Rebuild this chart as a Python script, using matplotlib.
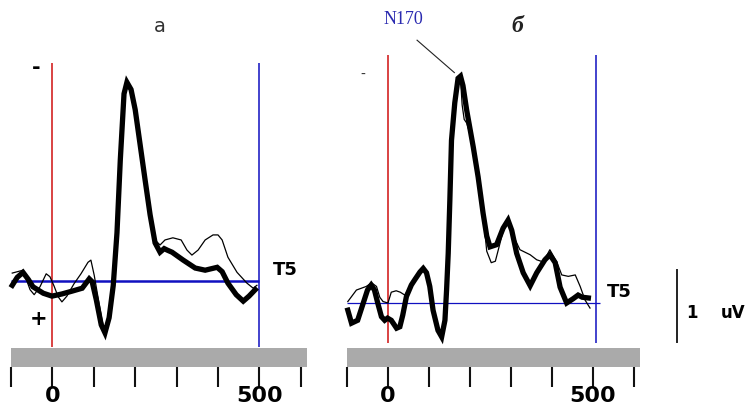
import matplotlib.pyplot as plt

W, H = 752, 403

# averaged ERP traces at T5: time in ms, amplitude in uV (negative plotted up)
t_a_thick = [-97, -85, -71, -58, -47, -22, -1, 23, 48, 72, 89, 96, 106, 118, 127, 137, 147,
             156, 164, 173, 180, 190, 200, 212, 224, 236, 248, 260, 270, 277, 289, 316, 345,
             369, 398, 410, 424, 444, 461, 475, 490]
v_a_thick = [0.06, -0.05, -0.12, -0.02, 0.08, 0.17, 0.21, 0.18, 0.14, 0.10, -0.03, 0.01, 0.26,
             0.61, 0.72, 0.51, 0.06, -0.67, -1.68, -2.60, -2.76, -2.66, -2.38, -1.89, -1.40,
             -0.92, -0.53, -0.40, -0.45, -0.43, -0.40, -0.29, -0.18, -0.15, -0.19, -0.13, 0.03,
             0.19, 0.28, 0.21, 0.12]

t_a_thin = [-97, -71, -54, -44, -30, -15, -6, 4, 14, 23, 35, 52, 69, 86, 93, 101, 110, 120,
            127, 137, 147, 156, 164, 173, 180, 190, 200, 212, 224, 236, 248, 260, 272, 291,
            311, 325, 337, 352, 369, 388, 400, 410, 424, 446, 470, 485, 494]
v_a_thin = [-0.11, -0.15, 0.12, 0.19, 0.08, -0.10, -0.06, 0.07, 0.22, 0.29, 0.21, 0.04, -0.10,
            -0.26, -0.29, -0.08, 0.22, 0.55, 0.70, 0.48, 0.04, -0.66, -1.66, -2.58, -2.74,
            -2.64, -2.36, -1.88, -1.38, -0.90, -0.57, -0.50, -0.57, -0.60, -0.57, -0.43, -0.36,
            -0.43, -0.57, -0.64, -0.64, -0.57, -0.33, -0.12, 0.03, 0.10, 0.06]

t_b_thick = [-98, -89, -74, -62, -50, -41, -33, -25, -16, -8, -1, 8, 21, 29, 36, 45, 57, 65,
             78, 86, 94, 102, 110, 122, 131, 139, 143, 147, 151, 155, 163, 171, 177, 183, 192,
             208, 220, 232, 241, 249, 265, 281, 293, 302, 314, 330, 347, 363, 383, 395, 408,
             420, 436, 452, 464, 474, 489]
v_b_thick = [0.10, 0.28, 0.24, 0.03, -0.18, -0.25, -0.18, 0.0, 0.19, 0.24, 0.21, 0.24, 0.35,
             0.33, 0.17, -0.09, -0.25, -0.32, -0.43, -0.48, -0.42, -0.23, 0.10, 0.38, 0.47,
             0.24, -0.18, -0.69, -1.43, -2.26, -2.78, -3.12, -3.15, -3.02, -2.68, -2.17,
             -1.75, -1.25, -0.93, -0.78, -0.81, -1.04, -1.15, -1.01, -0.69, -0.42, -0.24,
             -0.42, -0.60, -0.67, -0.56, -0.22, 0.0, -0.06, -0.11, -0.08, -0.07]

t_b_thin = [-98, -77, -53, -40, -28, -20, -12, 0, 8, 20, 30, 41, 49, 57, 65, 77, 86, 94, 102,
            110, 122, 130, 139, 143, 147, 151, 155, 163, 171, 177, 181, 186, 192, 200, 208,
            220, 232, 241, 252, 262, 272, 281, 293, 302, 322, 347, 363, 379, 395, 412, 424,
            440, 457, 469, 481, 493]
v_b_thin = [-0.02, -0.18, -0.23, -0.28, -0.23, -0.08, -0.02, 0.0, -0.15, -0.17, -0.15, -0.11,
            -0.18, -0.28, -0.35, -0.44, -0.46, -0.38, -0.20, 0.08, 0.33, 0.43, 0.20, -0.20,
            -0.70, -1.45, -2.25, -2.75, -3.08, -3.12, -2.75, -2.55, -2.50, -2.35, -2.15,
            -1.73, -1.23, -0.72, -0.56, -0.58, -0.80, -1.00, -1.12, -0.98, -0.74, -0.67,
            -0.60, -0.57, -0.74, -0.57, -0.39, -0.37, -0.39, -0.23, -0.04, 0.07]

tick_times = [-100, 0, 100, 200, 300, 400, 500, 600]
tick_labels = ['', '0', '', '', '', '', '500', '']

RED = '#d01010'
BLUE = '#1010c0'
PX_PER_UV = 72.0


def box(left, top, right, bottom):
    return [left / W, 1 - bottom / H, (right - left) / W, (bottom - top) / H]


def ftext(x, y, s, **kw):
    fig.text(x / W, 1 - y / H, s, ha='center', va='center', **kw)


def panel(left, right, base_y, thick, thin, red_span, blue_t, base_end, base_lw):
    ax = fig.add_axes(box(left, 40, right, 348))
    ax.set_xlim(-100, 615)
    ax.set_ylim((348 - base_y) / PX_PER_UV, (40 - base_y) / PX_PER_UV)
    ax.axis('off')
    ax.vlines(0, *red_span, color=RED, lw=1.1)
    ax.vlines(blue_t, *red_span, color=BLUE, lw=1.1)
    ax.hlines(0, -100, base_end, color=BLUE, lw=base_lw)
    ax.plot(*thin, color='black', lw=0.9, clip_on=False)
    ax.plot(*thick, color='black', lw=3.8, solid_joinstyle='miter', clip_on=False)

    bar = fig.add_axes(box(left, 348, right, 367))
    bar.set_facecolor('#aaaaaa')
    for s in bar.spines.values():
        s.set_visible(False)
    bar.set_xlim(-100, 615)
    bar.set_yticks([])
    bar.set_xticks(tick_times, tick_labels)
    bar.tick_params(axis='x', length=14.4, width=1.5, color='#111111', pad=-1,
                    labelsize=16)
    for lab in bar.get_xticklabels():
        lab.set_fontweight('bold')
    return ax


fig = plt.figure(figsize=(7.52, 4.03), dpi=100)

ax_a = panel(11, 307, 281, (t_a_thick, v_a_thick), (t_a_thin, v_a_thin),
             ((63 - 281) / PX_PER_UV, (347 - 281) / PX_PER_UV), 500, 500, 1.8)
ax_b = panel(347, 640, 303, (t_b_thick, v_b_thick), (t_b_thin, v_b_thin),
             ((55 - 303) / PX_PER_UV, (343 - 303) / PX_PER_UV), 508, 518, 0.9)

# N170 pointer
ax_b.plot([71, 162], [-3.65, -3.2], color='#222222', lw=0.8, clip_on=False)

# 1 uV calibration bar
ax_b.plot([705, 705], [-0.46, 0.54], color='#222222', lw=1.4, clip_on=False)

ftext(160, 27, 'а', fontsize=14, color='#333333')
ftext(36, 68, '-', fontsize=15, fontweight='bold')
ftext(39, 319, '+', fontsize=15, fontweight='bold')
ftext(285, 270, 'T5', fontsize=13, fontweight='bold')

ftext(403, 20, 'N170', fontsize=13, color='#2a2ab0', family='Liberation Serif')
ftext(517, 26, 'б', fontsize=17, fontweight='bold', style='italic',
      family='Liberation Serif', color='#222222')
ftext(363, 75, '-', fontsize=10, color='#333333')
ftext(619, 292, 'T5', fontsize=13, fontweight='bold')
ftext(692, 313, '1', fontsize=12, fontweight='bold')
ftext(733, 313, 'uV', fontsize=12, fontweight='bold')

fig.savefig('out.png', dpi=100)
